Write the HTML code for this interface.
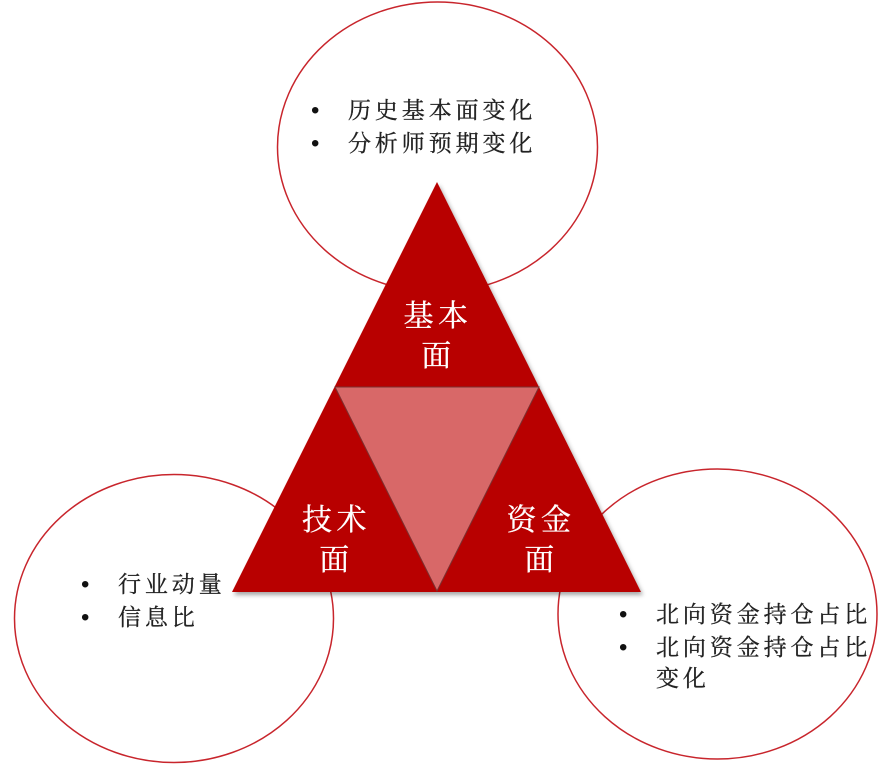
<!DOCTYPE html>
<html>
<head>
<meta charset="utf-8">
<style>
html,body{margin:0;padding:0;background:#fff;width:888px;height:774px;overflow:hidden}
text{font-family:"Liberation Serif","Noto Serif CJK SC",serif}
.t{font-size:23px;fill:#222;stroke:#222;stroke-width:.3px;letter-spacing:3.9px}
.b{font-size:24px;fill:#111;font-family:"Liberation Sans",sans-serif}
.w{font-size:30px;fill:#fff;stroke:#fff;stroke-width:.3px;text-anchor:middle;letter-spacing:4.5px}
</style>
</head>
<body>
<svg width="888" height="774" viewBox="0 0 888 774" xmlns="http://www.w3.org/2000/svg">
<defs>
<filter id="s" x="-10%" y="-10%" width="120%" height="120%">
<feDropShadow dx="2" dy="3" stdDeviation="2" flood-color="#000" flood-opacity=".35"/>
</filter>
</defs>
<g fill="#fff" stroke="#c8252c" stroke-width="1.5">
<ellipse cx="437.5" cy="147" rx="160" ry="145"/>
<ellipse cx="174" cy="618.5" rx="159.5" ry="144"/>
<ellipse cx="717.5" cy="614" rx="159.5" ry="145"/>
</g>
<polygon points="437,182 641,592 232,592" fill="#b80000" filter="url(#s)"/>
<polygon points="335,387 539,387 437,591" fill="#d86868" stroke="#7a3030" stroke-width="1"/>
<text class="w" x="438" y="326">基本</text>
<text class="w" x="438.5" y="366">面</text>
<text class="w" x="336.5" y="530">技术</text>
<text class="w" x="336.5" y="570">面</text>
<text class="w" x="541" y="530">资金</text>
<text class="w" x="541.5" y="570">面</text>
<text class="b" x="311" y="118">•</text>
<text class="t" x="348" y="118">历史基本面变化</text>
<text class="b" x="311" y="151">•</text>
<text class="t" x="348" y="151">分析师预期变化</text>
<text class="b" x="81" y="592">•</text>
<text class="t" x="118" y="592">行业动量</text>
<text class="b" x="81" y="625">•</text>
<text class="t" x="118" y="625">信息比</text>
<text class="b" x="619" y="622">•</text>
<text class="t" x="656" y="622">北向资金持仓占比</text>
<text class="b" x="619" y="655">•</text>
<text class="t" x="656" y="655">北向资金持仓占比</text>
<text class="t" x="656" y="686">变化</text>
</svg>
</body>
</html>
